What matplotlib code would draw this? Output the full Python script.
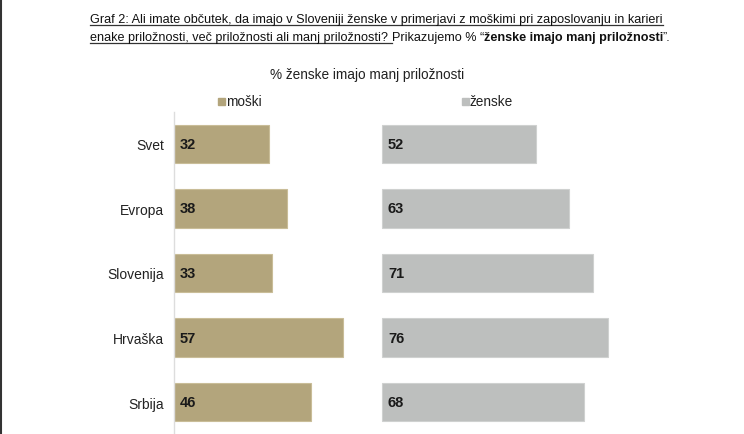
import matplotlib.pyplot as plt
from matplotlib.lines import Line2D
from matplotlib.patches import Rectangle

plt.rcParams['font.family'] = ['Liberation Sans', 'DejaVu Sans']

countries = ["Svet", "Evropa", "Slovenija", "Hrvaška", "Srbija"]
moski = [32, 38, 33, 57, 46]
zenske = [52, 63, 71, 76, 68]

c_m = "#b3a57c"
c_z = "#bdbfbe"
W, H = 744, 435

fig = plt.figure(figsize=(W / 100, H / 100), dpi=100)
ax = fig.add_axes([174 / W, 0, (W - 174) / W, (H - 113) / H])

px = 2.97          # pixels per percentage point
off = (382 - 174) / px   # start of women's bars
ys = list(range(len(countries)))

ax.barh(ys, moski, left=0, height=0.59, color=c_m, edgecolor="#c9bd98", linewidth=0.8)
ax.barh(ys, zenske, left=off, height=0.59, color=c_z, edgecolor="#cfd1d0", linewidth=0.8)
for y, m, z in zip(ys, moski, zenske):
    ax.text(2, y, str(m), va="center", ha="left", fontsize=10.5, fontweight="bold", color="#1a1a1a")
    ax.text(off + 2, y, str(z), va="center", ha="left", fontsize=10.5, fontweight="bold", color="#1a1a1a")

ax.set_xlim(0, (W - 174) / px)
ax.set_ylim(4.496, -0.496)
ax.set_yticks(ys)
ax.set_yticklabels(countries, fontsize=10, color="#222222")
ax.tick_params(axis="y", length=0, pad=7)
ax.set_xticks([])
for s in ["top", "right", "bottom"]:
    ax.spines[s].set_visible(False)
ax.spines["left"].set_color("#dddddd")
ax.spines["left"].set_linewidth(1)

# chart title and legend
fig.text(367 / W, 1 - 75 / H, "% ženske imajo manj priložnosti", ha="center", va="center",
         fontsize=9.8, color="#222222")
for x0, lab, col in [(218, "moški", c_m), (462, "ženske", c_z)]:
    fig.patches.append(Rectangle((x0 / W, 1 - 106 / H), 7 / W, 7 / H, transform=fig.transFigure,
                                 color=col, figure=fig))
    fig.text((x0 + 8) / W, 1 - 102 / H, lab, ha="left", va="center", fontsize=9.8, color="#222222")

# heading with underlined parts
fig.canvas.draw()
r = fig.canvas.get_renderer()


def piece(x, y, s, bold=False, under=False):
    t = fig.text(x / W, 1 - y / H, s, ha="left", va="baseline", fontsize=9.05,
                 fontweight="bold" if bold else "normal", color="#111111")
    bb = t.get_window_extent(r)
    if under:
        fig.lines.append(Line2D([bb.x0 / W, bb.x1 / W], [1 - (y + 2.5) / H] * 2,
                                transform=fig.transFigure, color="#333333", lw=0.9))
    return bb.x1


piece(90, 23, "Graf 2: Ali imate občutek, da imajo v Sloveniji ženske v primerjavi z moškimi pri zaposlovanju in karieri",
      under=True)
x = piece(90, 41, "enake priložnosti, več priložnosti ali manj priložnosti? ", under=True)
x = piece(x, 41, "Prikazujemo % “")
x = piece(x, 41, "ženske imajo manj priložnosti", bold=True)
piece(x, 41, "”.")

fig.lines.append(Line2D([1 / W, 1 / W], [0, 1], transform=fig.transFigure, color="#333333", lw=1.5))

fig.savefig("out.png", dpi=100)
